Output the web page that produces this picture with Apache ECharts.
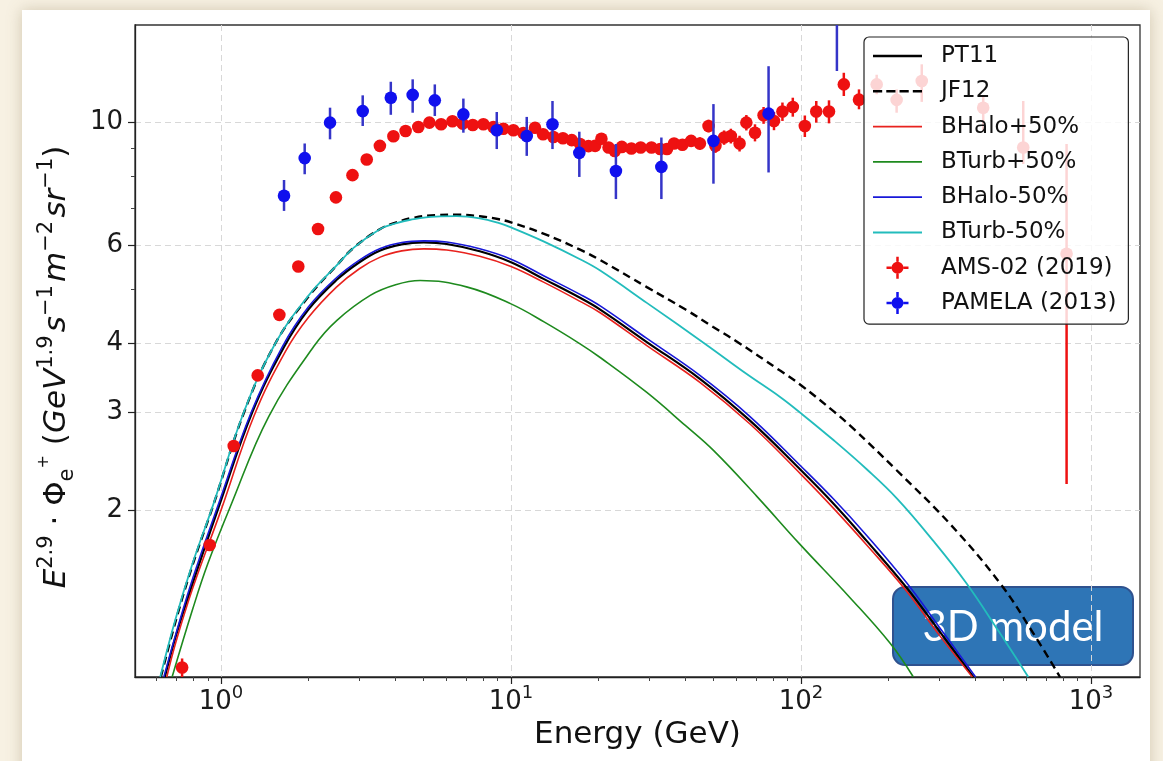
<!DOCTYPE html>
<html>
<head>
<meta charset="utf-8">
<script src="https://cdn.jsdelivr.net/npm/echarts@6/dist/echarts.min.js"></script>
<style>
html,body{margin:0;padding:0;background:#f7f1e3;}
#c{width:1163px;height:761px;}
</style>
</head>
<body>
<div id="c"></div>
<script>
// ---------- data ----------
const xTickValues = [1, 10, 100, 1000];
const xMinorTicks = [0.6,0.7,0.8,0.9,2,3,4,5,6,7,8,9,20,30,40,50,60,70,80,90,200,300,400,500,600,700,800,900];
const yTickValues = [2, 3, 4, 6, 10];
const yMinorTicks = [5, 7, 8, 9];

const legendNames = ['PT11','JF12','BHalo+50%','BTurb+50%','BHalo-50%','BTurb-50%','AMS-02 (2019)','PAMELA (2013)'];

// [E (GeV), E^2.9 * flux]
const pt11 = [[0.64,1.0],[0.7,1.19],[0.8,1.48],[0.98,2.02],[1.28,3.0],[1.645,3.93],[2.0,4.6],[2.5,5.2],[3.0,5.6],[3.54,5.88],[4.2,6.03],[5.0,6.08],[6.0,6.04],[7.8,5.86],[10,5.6],[13,5.22],[17.3,4.83],[20.3,4.6],[29.4,4.02],[44.8,3.45],[66.7,2.9],[100,2.36],[130,2.05],[168.5,1.76],[231,1.45],[300,1.21],[393,1.0]];
const jf12 = [[0.62,1.0],[0.7,1.27],[0.8,1.6],[0.94,2.04],[1.2,3.0],[1.54,4.0],[2.0,4.85],[2.5,5.52],[2.87,5.95],[3.54,6.43],[4.0,6.6],[4.5,6.72],[5.5,6.81],[6.5,6.82],[7.8,6.78],[9,6.7],[10,6.61],[13,6.3],[17.3,5.9],[20.3,5.65],[29.4,5.05],[40,4.6],[49.8,4.28],[60,4.03],[84.7,3.57],[100,3.36],[130,3.01],[150,2.82],[213.7,2.36],[326,1.89],[486,1.476],[632,1.2],[782,1.0]];
const bhaloPlus = [[0.65,1.0],[0.7,1.16],[0.8,1.45],[1.0,2.0],[1.3,2.96],[1.67,3.87],[2.0,4.45],[2.5,5.05],[3.0,5.45],[3.54,5.72],[4.2,5.87],[5.0,5.92],[6.0,5.89],[7.8,5.74],[10,5.5],[13,5.15],[17.3,4.76],[20.3,4.54],[29.4,3.96],[44.8,3.4],[66.7,2.86],[100,2.32],[130,2.01],[168.5,1.73],[231,1.43],[300,1.19],[390,1.0]];
const bturbPlus = [[0.678,1.0],[0.8,1.33],[0.9,1.6],[1.077,2.03],[1.46,2.95],[2.09,3.95],[2.51,4.4],[3.27,4.88],[4.0,5.1],[4.86,5.19],[7.07,5.05],[10,4.71],[13,4.37],[17.3,3.99],[20.3,3.77],[29.4,3.26],[40,2.84],[50,2.56],[70.3,2.12],[98.7,1.74],[147.6,1.39],[203,1.15],[244,1.0]];
const bhaloMinus = [[0.635,1.0],[0.7,1.2],[0.8,1.51],[0.97,2.02],[1.27,3.0],[1.63,3.95],[2.0,4.65],[2.5,5.25],[3.0,5.65],[3.54,5.93],[4.2,6.08],[5.0,6.12],[6.0,6.09],[7.8,5.92],[10,5.67],[13,5.29],[17.3,4.9],[20.3,4.67],[29.4,4.08],[44.8,3.5],[66.7,2.95],[100,2.4],[130,2.09],[168.5,1.8],[231,1.48],[300,1.23],[400,1.0]];
const bturbMinus = [[0.617,1.0],[0.696,1.27],[0.8,1.61],[0.938,2.04],[1.197,3.0],[1.54,4.0],[2.0,4.87],[2.5,5.52],[2.87,5.95],[3.54,6.43],[4.0,6.58],[4.5,6.68],[5.5,6.77],[6.5,6.78],[7.8,6.72],[9,6.6],[10,6.47],[13,6.1],[17.3,5.67],[20.3,5.41],[29.4,4.73],[47,3.98],[65,3.52],[84.7,3.2],[100,2.99],[130,2.67],[168.5,2.37],[214,2.1],[286,1.76],[372,1.476],[480,1.21],[608,1.0]];

// AMS-02 (2019): energy, value, low, high
const amsE = [0.734,0.914,1.106,1.338,1.589,1.847,2.16,2.49,2.84,3.18,3.53,3.93,4.33,4.79,5.23,5.74,6.28,6.81,7.38,8.03,8.69,9.41,10.19,11.03,12.1,12.9,14.0,15.1,16.2,17.3,18.5,19.5,20.5,21.7,22.8,24.1,26.0,28.0,30.5,32.7,34.5,36.5,39.0,41.8,44.8,48.0,50.7,54.3,57.3,61.4,64.8,69.4,74.3,80.7,86.3,93.7,103.1,112.9,124.9,140.5,158.5,182.4,213.7,260.9,425,584,824];
const amsV = [1.04,1.73,2.61,3.50,4.50,5.50,6.43,7.33,8.04,8.58,9.08,9.45,9.66,9.82,10.0,9.93,10.06,9.96,9.90,9.93,9.82,9.75,9.69,9.58,9.79,9.53,9.42,9.37,9.30,9.15,9.07,9.08,9.35,9.02,8.89,9.04,8.98,9.02,9.02,8.96,8.96,9.17,9.12,9.27,9.17,9.86,9.08,9.40,9.46,9.17,10.0,9.59,10.31,10.07,10.47,10.67,9.86,10.47,10.47,11.72,11.0,11.72,10.99,11.89,10.64,9.02,5.8];
const amsLow = [1.0,1.7,2.58,3.47,4.46,5.46,6.39,7.29,8.0,8.54,9.04,9.4,9.61,9.77,9.95,9.88,10.0,9.9,9.84,9.87,9.75,9.68,9.61,9.49,9.7,9.43,9.31,9.26,9.18,9.03,8.94,8.95,9.2,8.87,8.74,8.88,8.82,8.84,8.84,8.78,8.77,8.97,8.91,9.05,8.93,9.6,8.82,9.12,9.17,8.87,9.68,9.25,9.95,9.69,10.07,10.25,9.42,10.0,9.97,11.17,10.57,11.25,10.42,10.9,9.67,8.42,2.23];
const amsHigh = [1.08,1.76,2.64,3.53,4.54,5.54,6.47,7.37,8.08,8.62,9.12,9.5,9.71,9.87,10.05,9.98,10.12,10.02,9.96,9.99,9.89,9.82,9.77,9.67,9.88,9.63,9.53,9.48,9.42,9.27,9.2,9.21,9.5,9.17,9.04,9.2,9.14,9.2,9.2,9.14,9.15,9.37,9.33,9.49,9.41,10.12,9.34,9.68,9.75,9.47,10.32,9.93,10.67,10.45,10.87,11.09,10.3,10.94,10.97,12.3,11.48,12.2,11.48,12.74,11.16,10.94,9.15];

// PAMELA (2013)
const pamE = [1.649,1.943,2.376,3.08,3.85,4.58,5.46,6.85,8.93,11.33,13.9,17.2,23.0,33.0,49.9,77.3,133];
const pamV = [7.38,8.63,10.0,10.49,11.09,11.22,10.97,10.35,9.69,9.46,9.93,8.82,8.18,8.32,9.27,10.38,16.0];
const pamLow = [6.93,8.07,9.33,9.86,10.33,10.42,10.28,9.59,8.96,8.71,8.96,7.98,7.28,7.28,7.76,8.13,12.39];
const pamHigh = [7.88,9.17,10.64,11.2,11.85,11.97,11.72,11.05,10.45,10.24,10.94,9.63,9.15,9.40,10.8,12.64,20.0];

// ---------- build ----------
const FONT = 'DejaVu Sans';
function zip4(a,b,c,d){ return a.map((v,i)=>[v,b[i],c[i],d[i]]); }

function errRender(color, barColor) {
  return function (params, api) {
    const x = api.value(0), y = api.value(1), lo = api.value(2), hi = api.value(3);
    const p = api.coord([x, y]);
    const pl = api.coord([x, lo]);
    const ph = api.coord([x, hi]);
    return {
      type: 'group',
      children: [
        {type:'line', shape:{x1:pl[0], y1:pl[1], x2:ph[0], y2:ph[1]}, style:{stroke:barColor, lineWidth:2.5}},
        {type:'circle', shape:{cx:p[0], cy:p[1], r:6.3}, style:{fill:color}}
      ]
    };
  };
}

const errIcon = 'path://M9.75,0 L12.25,0 L12.25,5 L9.75,5 Z M9.75,17 L12.25,17 L12.25,22 L9.75,22 Z M0,9.75 L5,9.75 L5,12.25 L0,12.25 Z M17,9.75 L22,9.75 L22,12.25 L17,12.25 Z M17,11 A6,6 0 1 1 5,11 A6,6 0 1 1 17,11 Z';
function solidIcon(h){ return 'path://M0,0 L49,0 L49,' + h + ' L0,' + h + ' Z'; }
const dashIcon = 'path://M0,0 h9 v2.4 h-9 Z M13,0 h9 v2.4 h-9 Z M26,0 h9 v2.4 h-9 Z M39,0 h9 v2.4 h-9 Z';
const legendIcons = [solidIcon(2.4), dashIcon, solidIcon(1.7), solidIcon(1.7), solidIcon(1.7), solidIcon(1.9), errIcon, errIcon];

function lineSeries(name, data, color, width, type) {
  return {
    name: name, type: 'line', data: data, symbol: 'none', showSymbol: false,
    smooth: 0.4, clip: true, z: 2,
    lineStyle: {color: color, width: width, type: type || 'solid'},
    itemStyle: {color: color},
    emphasis: {disabled: true}
  };
}

const tickText = {fontFamily: FONT, color: '#1a1a1a'};
const yl = {fontFamily: FONT, color: '#111'};

const option = {
  animation: false,
  backgroundColor: '#f7f1e3',
  graphic: [
    {type:'rect', z:-10, silent:true, shape:{x:22, y:10, width:1128, height:780},
     style:{fill:'#ffffff', shadowBlur:14, shadowColor:'rgba(140,120,80,0.35)'}},
    {type:'group', z:100, silent:true, children:[
      {type:'rect', shape:{x:893, y:587, width:240, height:78, r:12},
       style:{fill:'#2e75b6', stroke:'#2f528f', lineWidth:2}},
      {type:'text', style:{x:1013, y:627, text:'3D model', fill:'#ffffff', font:'42px Lato', textAlign:'center', textVerticalAlign:'middle'}}
    ]}
  ],
  grid: {left:135, top:25, right:23, bottom:84, show:true, borderColor:'#333', borderWidth:1.3, backgroundColor:'transparent'},
  legend: {
    orient:'vertical', left:864, top:37,
    padding:[7,12,9,9], itemGap:11.3, itemWidth:49, itemHeight:22,
    backgroundColor:'rgba(255,255,255,0.82)', borderColor:'#222', borderWidth:1.2, borderRadius:5,
    textStyle:{fontFamily:FONT, fontSize:23, color:'#111', lineHeight:24, padding:[0,0,0,14]},
    selectedMode:false,
    data: legendNames.map((n,i)=> ({name:n, icon:legendIcons[i]}))
  },
  xAxis: [
    {
      type:'log', logBase:10, min:0.505, max:1476,
      name:'Energy (GeV)', nameLocation:'middle', nameGap:41,
      nameTextStyle:{fontFamily:FONT, fontSize:31, color:'#111'},
      axisLine:{show:true, lineStyle:{color:'#222', width:1.3}},
      axisTick:{show:true, inside:false, length:7, customValues:xTickValues, lineStyle:{color:'#222', width:1.2}},
      axisLabel:{show:true, margin:7, customValues:xTickValues, fontFamily:FONT, fontSize:26, color:'#1a1a1a',
        formatter: v => '{b|10}{s|' + Math.round(Math.log10(v)) + '}',
        rich:{b:Object.assign({fontSize:26, lineHeight:31, verticalAlign:'bottom'}, tickText),
              s:Object.assign({fontSize:18, lineHeight:18, verticalAlign:'top'}, tickText)}},
      splitLine:{show:true, lineStyle:{color:'#d8d8d8', width:1, type:[6,4]}}
    },
    {
      type:'log', logBase:10, min:0.505, max:1476, position:'bottom',
      axisLine:{show:false},
      axisTick:{show:true, inside:false, length:4, customValues:xMinorTicks, lineStyle:{color:'#444', width:1}},
      axisLabel:{show:false},
      splitLine:{show:false}
    }
  ],
  yAxis: [
    {
      type:'log', logBase:10, min:1, max:15,
      name:'{i|E}{sp|2.9}{n| · Φ}{sb|e}{ss|+}{n| (}{i|GeV}{sp|1.9}{t| }{i|s}{sp|−1}{t| }{i|m}{sp|−2}{t| }{i|sr}{sp|−1}{n|)}',
      nameLocation:'middle', nameGap:57, nameRotate:90,
      nameTextStyle:{fontFamily:FONT, fontSize:31, color:'#111', padding:[0,32,0,0],
        rich:{
          i:Object.assign({fontStyle:'italic', fontSize:31, lineHeight:42}, yl),
          n:Object.assign({fontSize:31, lineHeight:42}, yl),
          t:Object.assign({fontSize:10, lineHeight:42}, yl),
          sp:Object.assign({fontSize:21, lineHeight:25, verticalAlign:'top'}, yl),
          sb:Object.assign({fontSize:21, lineHeight:23, verticalAlign:'bottom'}, yl),
          ss:Object.assign({fontSize:16, lineHeight:37, verticalAlign:'top'}, yl)
        }},
      axisLine:{show:true, lineStyle:{color:'#222', width:1.3}},
      axisTick:{show:true, inside:false, length:7, customValues:yTickValues, lineStyle:{color:'#222', width:1.2}},
      axisLabel:{show:true, margin:12, customValues:yTickValues, fontFamily:FONT, fontSize:26, color:'#1a1a1a',
        formatter: v => String(v)},
      splitLine:{show:true, lineStyle:{color:'#d8d8d8', width:1, type:[6,4]}}
    },
    {
      type:'log', logBase:10, min:1, max:15, position:'left',
      axisLine:{show:false},
      axisTick:{show:true, inside:false, length:4, customValues:yMinorTicks, lineStyle:{color:'#444', width:1}},
      axisLabel:{show:false},
      splitLine:{show:false}
    }
  ],
  series: [
    lineSeries('PT11', pt11, '#000000', 2.2),
    lineSeries('JF12', jf12, '#000000', 2.4, [8,5]),
    lineSeries('BHalo+50%', bhaloPlus, '#e8221e', 1.6),
    lineSeries('BTurb+50%', bturbPlus, '#1e8a1e', 1.6),
    lineSeries('BHalo-50%', bhaloMinus, '#1818d8', 1.6),
    lineSeries('BTurb-50%', bturbMinus, '#22bcbc', 1.8),
    {name:'AMS-02 (2019)', type:'custom', clip:true, z:3, data: zip4(amsE, amsV, amsLow, amsHigh),
     encode:{x:0, y:1}, itemStyle:{color:'#ee1111'}, renderItem: errRender('#ee1111', '#ee1111')},
    {name:'PAMELA (2013)', type:'custom', clip:true, z:4, data: zip4(pamE, pamV, pamLow, pamHigh),
     encode:{x:0, y:1}, itemStyle:{color:'#1010ee'}, renderItem: errRender('#1010ee', '#3535c8')}
  ]
};

const chart = echarts.init(document.getElementById('c'));
chart.setOption(option);
</script>
</body>
</html>
